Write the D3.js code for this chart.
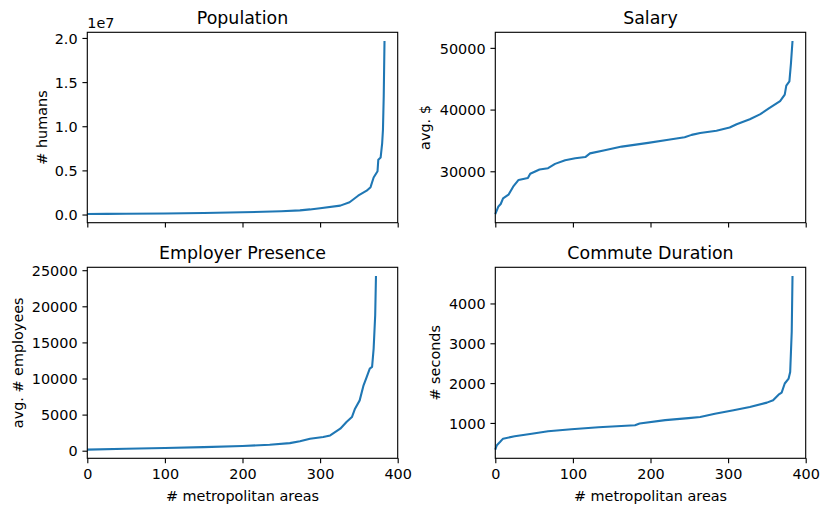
<!DOCTYPE html>
<html>
<head>
<meta charset="utf-8">
<script src="https://cdn.jsdelivr.net/npm/d3@7"></script>
<style>
  html, body { margin: 0; padding: 0; background: #fff; }
  svg { display: block; font-family: "DejaVu Sans", sans-serif; }
</style>
</head>
<body>
<svg id="svg" width="831" height="515"></svg>
<script>
// values (rank of metro area -> sorted value)
const xTicks = [0, 100, 200, 300, 400];

const popRank  = [0, 25, 50, 100, 150, 200, 250, 274, 287, 300, 326, 338, 349, 360, 365, 369, 374, 375, 378, 380, 381, 382, 383];
const popValue = [55000, 75000, 95000, 125000, 170000, 250000, 370000, 470000, 580000, 720000, 1010000, 1390000, 2130000,
                  2700000, 3100000, 4200000, 4900000, 6200000, 6450000, 8100000, 9600000, 13400000, 19660000];
const popTicks = [0, 5e6, 1e7, 1.5e7, 2e7];

const salRank  = [0, 4, 7, 10, 17, 23, 30, 42, 45, 57, 68, 77, 90, 103, 116, 122, 141, 163, 197, 223,
                  244, 253, 264, 285, 302, 311, 328, 341, 352, 367, 373, 375, 379, 381, 383];
const salValue = [23070, 24300, 24700, 25600, 26200, 27500, 28600, 28900, 29600, 30300, 30500, 31200, 31800, 32100,
                  32300, 32900, 33400, 34000, 34600, 35100, 35500, 35900, 36190, 36560, 37100, 37630, 38430, 39230,
                  40140, 41360, 42430, 43870, 44560, 47500, 51120];
const salTicks = [30000, 40000, 50000];

const empRank  = [0, 50, 100, 150, 200, 235, 261, 274, 287, 304, 313, 326, 334, 341, 345, 351, 356, 360, 364, 367, 369, 371, 372];
const empValue = [150, 260, 370, 500, 650, 830, 1050, 1320, 1660, 1890, 2120, 3050, 3970, 4660, 5820, 6970, 9050,
                  10200, 11370, 11600, 14140, 18760, 24200];
const empTicks = [0, 5000, 10000, 15000, 20000, 25000];

const comRank  = [0, 2, 6, 10, 25, 47, 68, 98, 133, 180, 186, 219, 249, 264, 283, 307, 328, 350, 358, 365,
                  369, 373, 378, 380, 381, 382, 383];
const comValue = [330, 440, 520, 605, 665, 730, 790, 840, 890, 940, 985, 1070, 1120, 1150, 1230, 1320, 1400,
                  1510, 1570, 1710, 1760, 1990, 2115, 2280, 2785, 3290, 4690];
const comTicks = [1000, 2000, 3000, 4000];

const pt = 100 / 72;          // matplotlib points -> px
const tickFont = 14.4, titleFont = 17.4;
const blue = "#1f77b4";

const cols = [[87.3, 397.7], [495.3, 805.7]];
const rows = [[32.3, 222.7], [267.3, 458.3]];

const panels = [
  {title: "Population", ylabel: "# humans", rank: popRank, value: popValue, ticks: popTicks,
   fmt: d => (d / 1e7).toFixed(1), offset: "1e7", col: 0, row: 0, labBase: 46.5},
  {title: "Salary", ylabel: "avg. $", rank: salRank, value: salValue, ticks: salTicks,
   fmt: d => String(d), col: 1, row: 0, labBase: 430},
  {title: "Employer Presence", ylabel: "avg. # employees", rank: empRank, value: empValue, ticks: empTicks,
   fmt: d => String(d), col: 0, row: 1, labBase: 23},
  {title: "Commute Duration", ylabel: "# seconds", rank: comRank, value: comValue, ticks: comTicks,
   fmt: d => String(d), col: 1, row: 1, labBase: 440}
];

const svg = d3.select("svg#svg");
svg.append("rect").attr("width", 831).attr("height", 515).attr("fill", "#fff");

panels.forEach(p => {
  const [x0, x1] = cols[p.col], [y0, y1] = rows[p.row];
  const x = d3.scaleLinear().domain([0, 400]).range([x0, x1]);
  // matplotlib style 5% margin on y
  const [lo, hi] = d3.extent(p.value);
  const m = (hi - lo) * 0.05;
  const y = d3.scaleLinear().domain([lo - m, hi + m]).range([y1, y0]);

  const pts = p.rank.map((r, i) => [r, p.value[i]]);
  svg.append("path")
    .datum(pts)
    .attr("fill", "none")
    .attr("stroke", blue)
    .attr("stroke-width", 1.5 * pt)
    .attr("stroke-linejoin", "round")
    .attr("stroke-linecap", "butt")
    .attr("d", d3.line().x(d => x(d[0])).y(d => y(d[1])));

  const yAxis = svg.append("g")
    .attr("transform", `translate(${x0},0)`)
    .call(d3.axisLeft(y).tickValues(p.ticks).tickFormat(p.fmt)
      .tickSize(3.5 * pt).tickSizeOuter(0).tickPadding(3.5 * pt));
  const xAxis = svg.append("g")
    .attr("transform", `translate(0,${y1})`)
    .call(d3.axisBottom(x).tickValues(xTicks).tickFormat(p.row === 1 ? d3.format("d") : () => "")
      .tickSize(3.5 * pt).tickSizeOuter(0).tickPadding(3.5 * pt + 1));
  [yAxis, xAxis].forEach(a => {
    a.attr("font-family", "DejaVu Sans").attr("font-size", tickFont);
    a.select(".domain").remove();
    a.selectAll(".tick line").attr("stroke", "#000").attr("stroke-width", 0.8 * pt);
    a.selectAll(".tick text").attr("fill", "#000");
  });
  yAxis.selectAll(".tick text").attr("dy", "0.36em");
  xAxis.selectAll(".tick text").attr("dy", "0.71em");

  // spines
  svg.append("rect")
    .attr("x", x0).attr("y", y0).attr("width", x1 - x0).attr("height", y1 - y0)
    .attr("fill", "none").attr("stroke", "#000").attr("stroke-width", 0.8 * pt);

  svg.append("text")
    .attr("x", (x0 + x1) / 2).attr("y", y0 - 6 * pt)
    .attr("text-anchor", "middle").attr("font-size", titleFont)
    .text(p.title);

  svg.append("text")
    .attr("transform", `translate(${p.labBase},${(y0 + y1) / 2}) rotate(-90)`)
    .attr("text-anchor", "middle").attr("font-size", tickFont)
    .text(p.ylabel);

  if (p.offset) {
    svg.append("text")
      .attr("x", x0).attr("y", y0 - 4)
      .attr("font-size", tickFont)
      .text(p.offset);
  }
  if (p.row === 1) {
    svg.append("text")
      .attr("x", (x0 + x1) / 2).attr("y", 501)
      .attr("text-anchor", "middle").attr("font-size", tickFont)
      .text("# metropolitan areas");
  }
});
</script>
</body>
</html>
